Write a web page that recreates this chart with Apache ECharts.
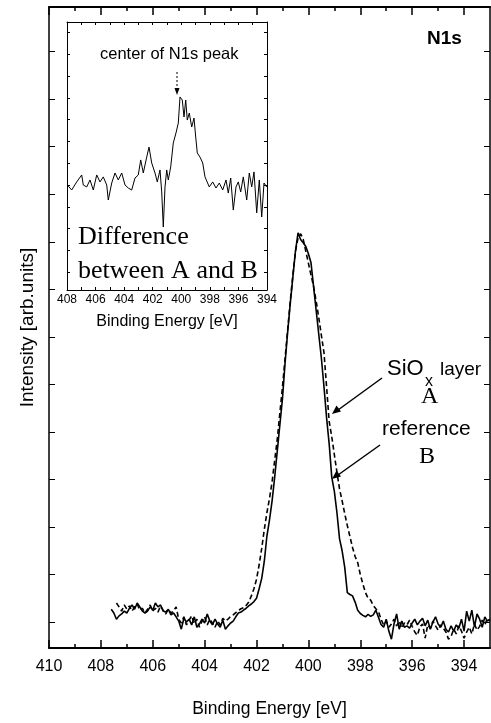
<!DOCTYPE html>
<html><head><meta charset="utf-8">
<script src="https://cdn.jsdelivr.net/npm/echarts@6/dist/echarts.min.js"></script>
<style>html,body{margin:0;padding:0;background:#fff}#c{width:491px;height:723px}</style>
</head><body><div id="c"></div>
<script>
// ---- main spectrum: binding energy grid (eV) ----
const energies = [
407.6,407.5,407.4,407.3,407.2,407.1,407.0,406.9,406.8,406.7,
406.6,406.5,406.4,406.3,406.2,406.1,406.0,405.9,405.8,405.7,
405.6,405.5,405.4,405.3,405.2,405.1,405.0,404.9,404.8,404.7,
404.6,404.5,404.4,404.3,404.2,404.1,404.0,403.9,403.8,403.7,
403.6,403.5,403.4,403.3,403.2,403.1,403.0,402.9,402.8,402.7,
402.6,402.5,402.4,402.3,402.2,402.1,402.0,401.9,401.8,401.7,
401.6,401.5,401.4,401.3,401.2,401.1,401.0,400.9,400.8,400.7,
400.6,400.5,400.4,400.3,400.2,400.1,400.0,399.9,399.8,399.7,
399.6,399.5,399.4,399.3,399.2,399.1,399.0,398.9,398.8,398.7,
398.6,398.5,398.4,398.3,398.2,398.1,398.0,397.9,397.8,397.7,
397.6,397.5,397.4,397.3,397.2,397.1,397.0,396.9,396.8,396.7,
396.6,396.5,396.4,396.3,396.2,396.1,396.0,395.9,395.8,395.7,
395.6,395.5,395.4,395.3,395.2,395.1,395.0,394.9,394.8,394.7,
394.6,394.5,394.4,394.3,394.2,394.1,394.0,393.9,393.8,393.7,
393.6,393.5,393.4,393.3,393.2,393.1,393.0];

// reference B (solid line)
const referenceB = [
0.27,0.19,0.06,0.13,0.17,0.23,0.19,0.29,0.36,0.27,
0.40,0.32,0.23,0.19,0.23,0.32,0.25,0.40,0.32,0.36,
0.23,0.21,0.27,0.15,0.19,0.11,0.02,-0.15,0.08,0.00,
0.06,-0.06,0.11,-0.11,-0.04,0.06,-0.02,0.17,0.02,-0.06,
0.06,-0.04,-0.11,0.04,-0.15,-0.08,-0.02,0.02,0.11,0.19,
0.21,0.25,0.29,0.34,0.38,0.43,0.50,0.70,0.92,1.28,
1.81,2.15,2.55,3.05,3.60,4.15,4.70,5.45,6.10,6.70,
7.25,7.80,8.19,8.05,7.98,7.90,7.75,7.56,7.05,6.55,
6.05,5.55,4.95,4.30,3.75,3.05,2.75,2.30,1.75,1.50,
1.15,0.62,0.58,0.55,0.42,0.25,0.18,0.14,0.11,0.16,
0.12,0.15,0.25,0.10,-0.05,-0.11,0.06,-0.19,-0.36,-0.04,
0.17,-0.15,0.02,-0.11,-0.08,-0.13,-0.02,0.06,-0.06,0.02,
0.08,-0.08,0.04,-0.15,0.00,0.11,-0.04,-0.11,0.02,-0.15,
-0.21,-0.08,-0.19,-0.06,-0.13,0.06,-0.19,0.23,0.02,0.25,
-0.10,0.17,0.06,-0.11,0.11,0.02,0.06];

// SiOx layer A (dashed line)
const siOxLayerA = [
null,null,0.40,0.32,0.23,0.36,0.27,0.34,0.23,0.32,
0.38,0.25,0.29,0.19,0.27,0.36,0.23,0.29,0.21,0.34,
0.25,0.17,0.27,0.19,0.23,0.32,0.06,-0.02,0.11,-0.06,
0.04,0.13,-0.04,0.06,-0.11,0.02,0.11,-0.06,0.06,-0.02,
-0.11,0.02,-0.06,0.08,0.02,0.06,0.12,0.15,0.20,0.24,
0.28,0.30,0.35,0.42,0.55,0.70,0.90,1.20,1.55,1.95,
2.30,2.60,2.95,3.40,3.85,4.40,4.95,5.55,6.15,6.75,
7.30,7.80,8.08,8.17,8.05,7.80,7.55,7.30,7.06,6.75,
6.40,6.03,5.67,4.95,4.22,3.90,3.52,3.15,2.80,2.55,
2.28,2.03,1.80,1.57,1.38,1.25,1.00,0.80,0.62,0.50,
0.46,0.35,0.28,0.22,0.06,-0.06,0.02,-0.11,-0.04,0.06,
-0.08,0.02,-0.13,-0.02,-0.06,0.04,-0.09,-0.21,-0.28,-0.10,
-0.04,-0.34,-0.06,-0.13,0.02,-0.08,-0.17,-0.06,-0.13,-0.21,
-0.36,-0.30,-0.15,-0.25,-0.08,-0.19,-0.34,-0.21,-0.11,-0.25,
-0.04,-0.17,-0.09,0.04,-0.06,0.08,0.02];

// ---- inset: difference between A and B ----
const insetEnergies = [
407.98,407.67,407.32,406.97,406.86,406.62,406.39,406.16,405.92,405.69,
405.46,405.22,405.11,404.87,404.64,404.41,404.17,403.94,403.71,403.47,
403.24,403.01,402.84,402.66,402.42,402.26,402.07,401.84,401.68,401.49,
401.37,401.26,401.14,401.02,400.91,400.74,400.56,400.37,400.21,400.09,
399.93,399.81,399.69,399.58,399.44,399.27,399.11,398.99,398.88,398.69,
398.50,398.34,398.22,398.04,397.80,397.57,397.34,397.10,396.87,396.71,
396.54,396.36,396.17,396.01,395.84,395.66,395.42,395.24,395.07,394.91,
394.72,394.54,394.37,394.21,394.02];
const insetDifference = [
0.00,-0.23,0.14,0.46,0.00,-0.09,0.23,-0.23,0.46,0.14,
0.37,0.00,-0.69,0.09,0.55,0.23,0.55,0.00,-0.14,-0.23,
0.32,0.46,1.15,0.55,1.28,1.74,1.01,0.55,0.14,0.69,
-0.32,-1.93,-0.09,0.69,0.23,0.83,1.93,2.39,2.84,4.04,
3.90,3.12,3.90,2.98,3.30,2.66,3.07,2.20,1.47,1.28,
1.01,0.37,0.46,-0.09,0.14,-0.14,0.09,-0.23,0.23,-0.37,
0.32,-1.15,-0.09,0.14,-0.32,0.37,-0.69,0.55,-0.09,0.60,
-1.28,0.23,-1.47,0.09,-0.09];

// ---- ticks ----
const mainMajorTicks = [410,408,406,404,402,400,398,396,394];
const mainMinorTicks = [409,407,405,403,401,399,397,395];
const intensityTicks = [0,1,2,3,4,5,6,7,8,9,10,11,12];
const insetLabelTicks = [408,406,404,402,400,398,396,394];
const insetYTicks = [-4,-3,-2,-1,0,1,2,3,4,5,6,7];

const SANS = 'Liberation Sans, Arial, sans-serif';
const SERIF = 'Liberation Serif, Times New Roman, serif';
const BLACK = '#000';

function xAx(grid, pos, ticks, len, showLine, labels, extra) {
  return Object.assign({
    gridIndex: grid, type: 'value', position: pos, inverse: true,
    min: 393, max: 410,
    axisLine: {show: showLine, onZero: false, lineStyle: {color: BLACK, width: 2}},
    axisTick: {show: true, inside: true, length: len, customValues: ticks, lineStyle: {color: BLACK, width: 1.5}},
    axisLabel: labels ? {show: true, customValues: labels, color: BLACK, fontSize: 16, fontFamily: SANS, margin: 11} : {show: false},
    splitLine: {show: false}
  }, extra || {});
}
function yAx(grid, pos, min, max, ticks, len, w, extra) {
  return Object.assign({
    gridIndex: grid, type: 'value', position: pos, min: min, max: max,
    axisLine: {show: true, onZero: false, lineStyle: {color: BLACK, width: w}},
    axisTick: {show: true, inside: true, length: len, customValues: ticks, lineStyle: {color: BLACK, width: 1}},
    axisLabel: {show: false}, splitLine: {show: false}
  }, extra || {});
}

const chart = echarts.init(document.getElementById('c'), null, {renderer: 'canvas'});
const option = {
  animation: false,
  backgroundColor: '#fff',
  grid: [
    {left: 49, right: 1, top: 7, bottom: 74},
    {left: 67, top: 22, width: 200, height: 268}
  ],
  xAxis: [
    xAx(0, 'bottom', mainMajorTicks, 8, true, mainMajorTicks, {
      name: 'Binding Energy [eV]', nameLocation: 'middle', nameGap: 52,
      nameTextStyle: {color: BLACK, fontSize: 17.5, fontFamily: SANS}}),
    xAx(0, 'bottom', mainMinorTicks, 4, false, null),
    xAx(0, 'top', mainMajorTicks, 8, true, null),
    xAx(0, 'top', mainMinorTicks, 4, false, null),
    {
      gridIndex: 1, type: 'value', position: 'bottom', inverse: true, min: 394, max: 408, interval: 1,
      axisLine: {show: true, onZero: false, lineStyle: {color: BLACK, width: 1}},
      axisTick: {show: true, inside: true, length: 3, lineStyle: {color: BLACK, width: 1}},
      axisLabel: {show: true, customValues: insetLabelTicks, color: BLACK, fontSize: 12, fontFamily: SANS, margin: 4},
      splitLine: {show: false},
      name: 'Binding Energy [eV]', nameLocation: 'middle', nameGap: 24,
      nameTextStyle: {color: BLACK, fontSize: 16, fontFamily: SANS}
    },
    {
      gridIndex: 1, type: 'value', position: 'top', inverse: true, min: 394, max: 408, interval: 1,
      axisLine: {show: true, onZero: false, lineStyle: {color: BLACK, width: 1}},
      axisTick: {show: true, inside: true, length: 3, lineStyle: {color: BLACK, width: 1}},
      axisLabel: {show: false}, splitLine: {show: false}
    }
  ],
  yAxis: [
    yAx(0, 'left', -0.546, 12.94, intensityTicks, 6, 1.5, {
      name: 'Intensity [arb.units]', nameLocation: 'middle', nameGap: 12,
      nameTextStyle: {color: BLACK, fontSize: 19, fontFamily: SANS}}),
    yAx(0, 'right', -0.546, 12.94, intensityTicks, 6, 1.5),
    yAx(1, 'left', -4.82, 7.48, insetYTicks, 3, 1),
    yAx(1, 'right', -4.82, 7.48, insetYTicks, 3, 1)
  ],
  series: [
    {
      name: 'reference B', type: 'line', xAxisIndex: 0, yAxisIndex: 0,
      data: energies.map((e, i) => [e, referenceB[i]]),
      showSymbol: false, symbol: 'none',
      lineStyle: {color: BLACK, width: 1.6}
    },
    {
      name: 'SiOx layer A', type: 'line', xAxisIndex: 0, yAxisIndex: 0,
      data: energies.map((e, i) => [e, siOxLayerA[i] === null ? '-' : siOxLayerA[i]]),
      showSymbol: false, symbol: 'none',
      lineStyle: {color: BLACK, width: 1.6, type: [5, 3]}
    },
    {
      name: 'difference', type: 'line', xAxisIndex: 4, yAxisIndex: 2,
      data: insetEnergies.map((e, i) => [e, insetDifference[i]]),
      showSymbol: false, symbol: 'none',
      lineStyle: {color: BLACK, width: 1}
    }
  ],
  graphic: [
    {type: 'text', left: 100, top: 46, style: {text: 'center of N1s peak', font: '16.5px ' + SANS, fill: BLACK}},
    {type: 'line', shape: {x1: 177, y1: 72, x2: 177, y2: 90}, style: {stroke: BLACK, lineWidth: 1, lineDash: [2, 2]}},
    {type: 'polygon', shape: {points: [[174.5, 88], [179.5, 88], [177, 95]]}, style: {fill: BLACK}},
    {type: 'text', left: 78, top: 224, style: {text: 'Difference', font: '26px ' + SERIF, fill: BLACK}},
    {type: 'text', left: 78, top: 258, style: {text: 'between A and B', font: '26px ' + SERIF, fill: BLACK}},
    {type: 'text', left: 427, top: 29, style: {text: 'N1s', font: 'bold 19px ' + SANS, fill: BLACK}},
    {type: 'text', left: 387, top: 358, style: {text: 'SiO', font: '22px ' + SANS, fill: BLACK}},
    {type: 'text', left: 425, top: 374, style: {text: 'x', font: '16px ' + SANS, fill: BLACK}},
    {type: 'text', left: 440, top: 360, style: {text: 'layer', font: '19px ' + SANS, fill: BLACK}},
    {type: 'text', left: 421, top: 385, style: {text: 'A', font: '24px ' + SERIF, fill: BLACK}},
    {type: 'text', left: 382, top: 419, style: {text: 'reference', font: '21px ' + SANS, fill: BLACK}},
    {type: 'text', left: 419, top: 445, style: {text: 'B', font: '24px ' + SERIF, fill: BLACK}},
    {type: 'line', shape: {x1: 382, y1: 378, x2: 338, y2: 410}, style: {stroke: BLACK, lineWidth: 1.5}},
    {type: 'polygon', shape: {points: [[332, 414], [336.5, 405.5], [341, 411.5]]}, style: {fill: BLACK}},
    {type: 'line', shape: {x1: 380, y1: 445, x2: 338, y2: 475}, style: {stroke: BLACK, lineWidth: 1.5}},
    {type: 'polygon', shape: {points: [[332, 479], [336.5, 470.5], [341, 476.5]]}, style: {fill: BLACK}}
  ]
};
chart.setOption(option);
</script>
</body></html>
